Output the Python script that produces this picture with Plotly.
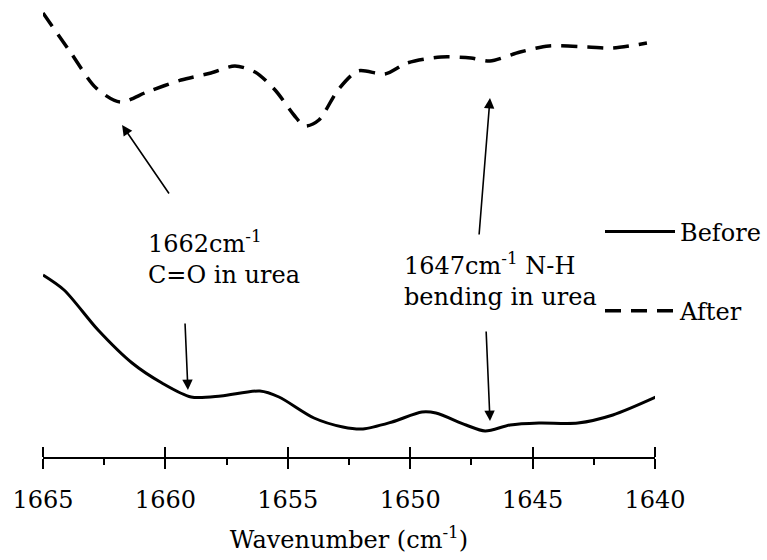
import plotly.graph_objects as go

# Wavenumber (cm^-1) and relative intensity (arbitrary units)
before_x = [1665.0, 1664.14, 1662.75, 1661.36, 1660.14, 1658.95, 1657.73, 1656.14, 1655.36,
            1653.93, 1652.75, 1651.93, 1650.74, 1649.52, 1648.95, 1647.72, 1646.94, 1645.92,
            1644.74, 1643.15, 1641.72, 1639.96]
before_y = [182, 167, 127, 94, 74, 60, 61, 66, 60,
            39, 30, 28, 35, 45, 44, 32, 26, 32,
            34, 34, 42, 60]

after_x = [1665.0, 1663.94, 1662.83, 1661.85, 1660.75, 1659.36, 1658.14, 1657.16, 1656.34,
           1655.52, 1654.75, 1654.30, 1653.73, 1652.95, 1652.13, 1651.03, 1650.13, 1648.74,
           1647.52, 1646.74, 1645.51, 1644.33, 1642.74, 1641.72, 1640.33]
after_y = [444, 407, 369, 355, 365, 377, 384, 391, 385,
           367, 342, 331, 337, 367, 386, 383, 394, 400,
           399, 396, 405, 411, 410, 409, 414]

tick_vals = [1665, 1660, 1655, 1650, 1645, 1640]
tick_text = ["1665", "1660", "1655", "1650", "1645", "1640"]
minor_vals = [1662.5, 1657.5, 1652.5, 1647.5, 1642.5]

FONT = "DejaVu Serif"
FS = 24

fig = go.Figure()
fig.add_trace(go.Scatter(x=before_x, y=before_y, mode="lines", name="Before",
                         line=dict(color="black", width=3, shape="spline", smoothing=0.8),
                         legendgroup="a"))
fig.add_trace(go.Scatter(x=after_x, y=after_y, mode="lines", name="After",
                         line=dict(color="black", width=3.5, dash="16px,10px", shape="spline", smoothing=0.8),
                         legendgroup="b"))

# second x axis (placed on the bottom line) draws the upward half of the major ticks
fig.add_trace(go.Scatter(x=[1665, 1640], y=[-100, -100], xaxis="x2", mode="lines",
                         showlegend=False, hoverinfo="skip", line=dict(color="rgba(0,0,0,0)")))

arrow = dict(showarrow=True, arrowhead=2, arrowsize=1.3, arrowwidth=1.6, arrowcolor="black",
             axref="x", ayref="y", text="")
annotations = [
    dict(x=1661.77, y=332, ax=1659.81, ay=262, **arrow),
    dict(x=1659.08, y=67, ax=1659.2, ay=135, **arrow),
    dict(x=1646.74, y=359, ax=1647.19, ay=221, **arrow),
    dict(x=1646.74, y=36, ax=1646.90, ay=127, **arrow),
    dict(x=1660.8, y=200, text="1662cm<sup>-1</sup><br>C=O in urea", showarrow=False,
         xanchor="left", yanchor="middle", align="left",
         font=dict(family=FONT, size=FS, color="black")),
    dict(x=1650.35, y=178, text="1647cm<sup>-1</sup> N-H<br>bending in urea", showarrow=False,
         xanchor="left", yanchor="middle", align="left",
         font=dict(family=FONT, size=FS, color="black")),
]

fig.update_layout(
    width=767, height=560,
    margin=dict(l=43, r=112, t=0, b=103),
    paper_bgcolor="white", plot_bgcolor="white",
    font=dict(family=FONT, size=FS, color="black"),
    xaxis=dict(range=[1665, 1640], showgrid=False, zeroline=False,
               showline=True, linecolor="black", linewidth=2,
               tickmode="array", tickvals=tick_vals, ticktext=tick_text,
               ticks="outside", ticklen=10, tickwidth=2, tickcolor="black",
               ticklabelstandoff=10,
               minor=dict(tickmode="array", tickvals=minor_vals,
                          ticks="outside", ticklen=6, tickwidth=2, tickcolor="black"),
               title=dict(text="Wavenumber (cm<sup>-1</sup>)", font=dict(family=FONT, size=FS), standoff=18),
               tickfont=dict(family=FONT, size=FS)),
    xaxis2=dict(range=[1665, 1640], overlaying="x", side="top", anchor="free", position=0,
                showgrid=False, zeroline=False, showline=False, showticklabels=False,
                tickmode="array", tickvals=tick_vals,
                ticks="outside", ticklen=10, tickwidth=2, tickcolor="black"),
    yaxis=dict(range=[0, 457], visible=False),
    legend=dict(x=(600 - 43) / 612, y=0.5416, xanchor="left", yanchor="top",
                bgcolor="rgba(0,0,0,0)", tracegroupgap=45, itemwidth=70,
                font=dict(family=FONT, size=FS)),
    annotations=annotations,
)

fig.write_html("out.html")
